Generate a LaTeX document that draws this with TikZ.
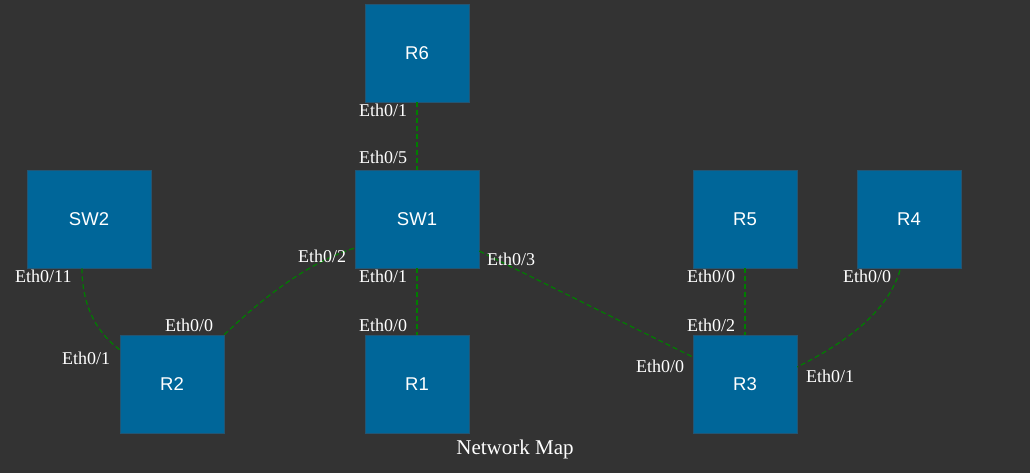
\documentclass[tikz,border=0pt]{standalone}
\usepackage{fontspec}
\setmainfont{Liberation Serif}
\newfontfamily\boxfont{Liberation Sans}
\usetikzlibrary{positioning}
\definecolor{bgdark}{RGB}{51,51,51}
\definecolor{devblue}{RGB}{0,102,153}
\definecolor{devedge}{RGB}{35,85,115}
\definecolor{linkgreen}{RGB}{0,125,0}

\begin{document}
\begin{tikzpicture}[x=1pt, y=-1pt, node distance=100pt, on grid,
    device/.style={rectangle, fill=devblue, draw=devedge, line width=0.6pt,
      minimum width=104pt, minimum height=98pt, inner sep=0pt,
      text=white, font=\boxfont\fontsize{18.5}{20}\selectfont},
    wide/.style={minimum width=124pt},
    link/.style={draw=linkgreen, line width=1.2pt, dash pattern=on 5pt off 3pt},
    port/.style={anchor=base west, inner sep=0pt, text=white,
      font=\fontsize{18}{20}\selectfont}]
  \fill[bgdark] (0,0) rectangle (1030,473);
  \useasboundingbox (0,0) rectangle (1030,473);
  % devices
  \node[device, wide] (sw1) at (417,219) {SW1};
  \node[device, above=166pt of sw1] (r6) {R6};
  \node[device, below=165pt of sw1] (r1) {R1};
  \node[device, wide, left=328pt of sw1] (sw2) {SW2};
  \node[device] (r2) at (172,384) {R2};
  \node[device] (r5) at (745,219) {R5};
  \node[device, below=165pt of r5] (r3) {R3};
  \node[device, right=164pt of r5] (r4) {R4};
  % links
  \path[link] (r6.south) -- (sw1.north);
  \path[link] (sw1.south) -- (r1.north);
  \path[link] (r5.south) -- (r3.north);
  \path[link] ([yshift=-32pt]sw1.east) -- ([yshift=27pt]r3.west);
  \path[link] ([xshift=-7pt]sw2.south) .. controls (82,310) and (100,335) .. ([yshift=-15pt]r2.north west);
  \path[link] (r2.north east) .. controls (250,310) and (300,265) .. ([yshift=-29pt]sw1.west);
  \path[link] ([xshift=-9pt,yshift=-2pt]r4.south) .. controls (885,320) and (830,350) .. ([yshift=17pt]r3.east);
  % port labels
  \node[port] (r6p1) at (359,117) {Eth0/1};
  \node[port] (sw1p5) at (359,164) {Eth0/5};
  \node[port] (sw1p2) at (298,262) {Eth0/2};
  \node[port] (sw1p1) at (359,282) {Eth0/1};
  \node[port] (sw1p3) at (487,265) {Eth0/3};
  \node[port] (r1p0) at (359,331) {Eth0/0};
  \node[port] (sw2p11) at (15,282) {Eth0/11};
  \node[port] (r2p0) at (165,331) {Eth0/0};
  \node[port] (r2p1) at (62,364) {Eth0/1};
  \node[port] (r5p0) at (687,282) {Eth0/0};
  \node[port] (r3p2) at (687,331) {Eth0/2};
  \node[port] (r3p0) at (636,372) {Eth0/0};
  \node[port] (r3p1) at (806,382) {Eth0/1};
  \node[port] (r4p0) at (843,282) {Eth0/0};
  \node[text=white, font=\fontsize{21}{24}\selectfont] (title) at (515,449) {Network Map};
\end{tikzpicture}
\end{document}
